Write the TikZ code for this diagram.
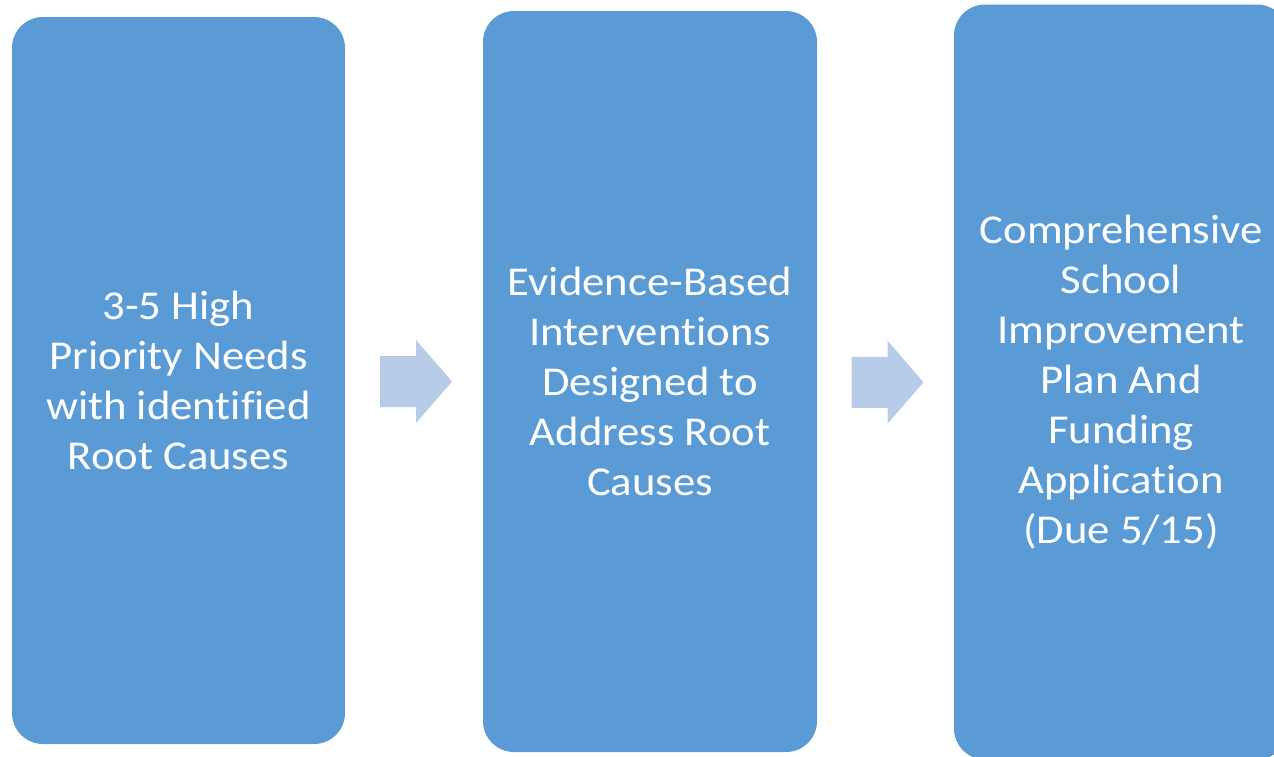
\documentclass[tikz,border=0pt]{standalone}
\usepackage{fontspec}
\setmainfont{Carlito}[Ligatures=NoCommon, FakeStretch=1.09]
\usepackage{xcolor}
\usepackage{tikz}
\usetikzlibrary{positioning, calc}

\definecolor{stepblue}{HTML}{5B9BD5}
\definecolor{arrowblue}{RGB}{183,204,232}

\tikzset{
  stagebox/.style={
    fill=stepblue,
    rounded corners=31pt,
    text=white,
    align=center,
    inner sep=0pt,
    font=\fontsize{41}{50}\selectfont
  },
  arrowfill/.style={fill=arrowblue}
}

\begin{document}
\begin{tikzpicture}[x=1pt, y=-1pt]
  \useasboundingbox (0,0) rectangle (1274,756);

  \node[stagebox, minimum width=333pt, minimum height=727pt] (needs) at (178.5,380.5) {
    3-5 High\\Priority Needs\\with identified\\Root Causes
  };
  \node[stagebox, minimum width=334pt, minimum height=741pt] (ebi) at (650,381.5) {
    Evidence-Based\\Interventions\\Designed to\\Address Root\\Causes
  };
  \node[stagebox, minimum width=334pt, minimum height=755pt] (cip) at (1121,382) {
    Comprehensive\\School\\Improvement\\Plan And\\Funding\\Application\\(Due 5/15)
  };

  % block arrows between the stages
  \foreach \a/\b in {needs/ebi, ebi/cip} {
    \coordinate (mid-\a) at ($(\a.east)!0.5!(\b.west)+(2,0.5)$);
    \fill[arrowfill, shift={(mid-\a)}]
      (-36,-25.5) -- (0,-25.5) -- (0,-41.5) -- (36,0)
      -- (0,41.5) -- (0,25.5) -- (-36,25.5) -- cycle;
  }
\end{tikzpicture}
\end{document}
